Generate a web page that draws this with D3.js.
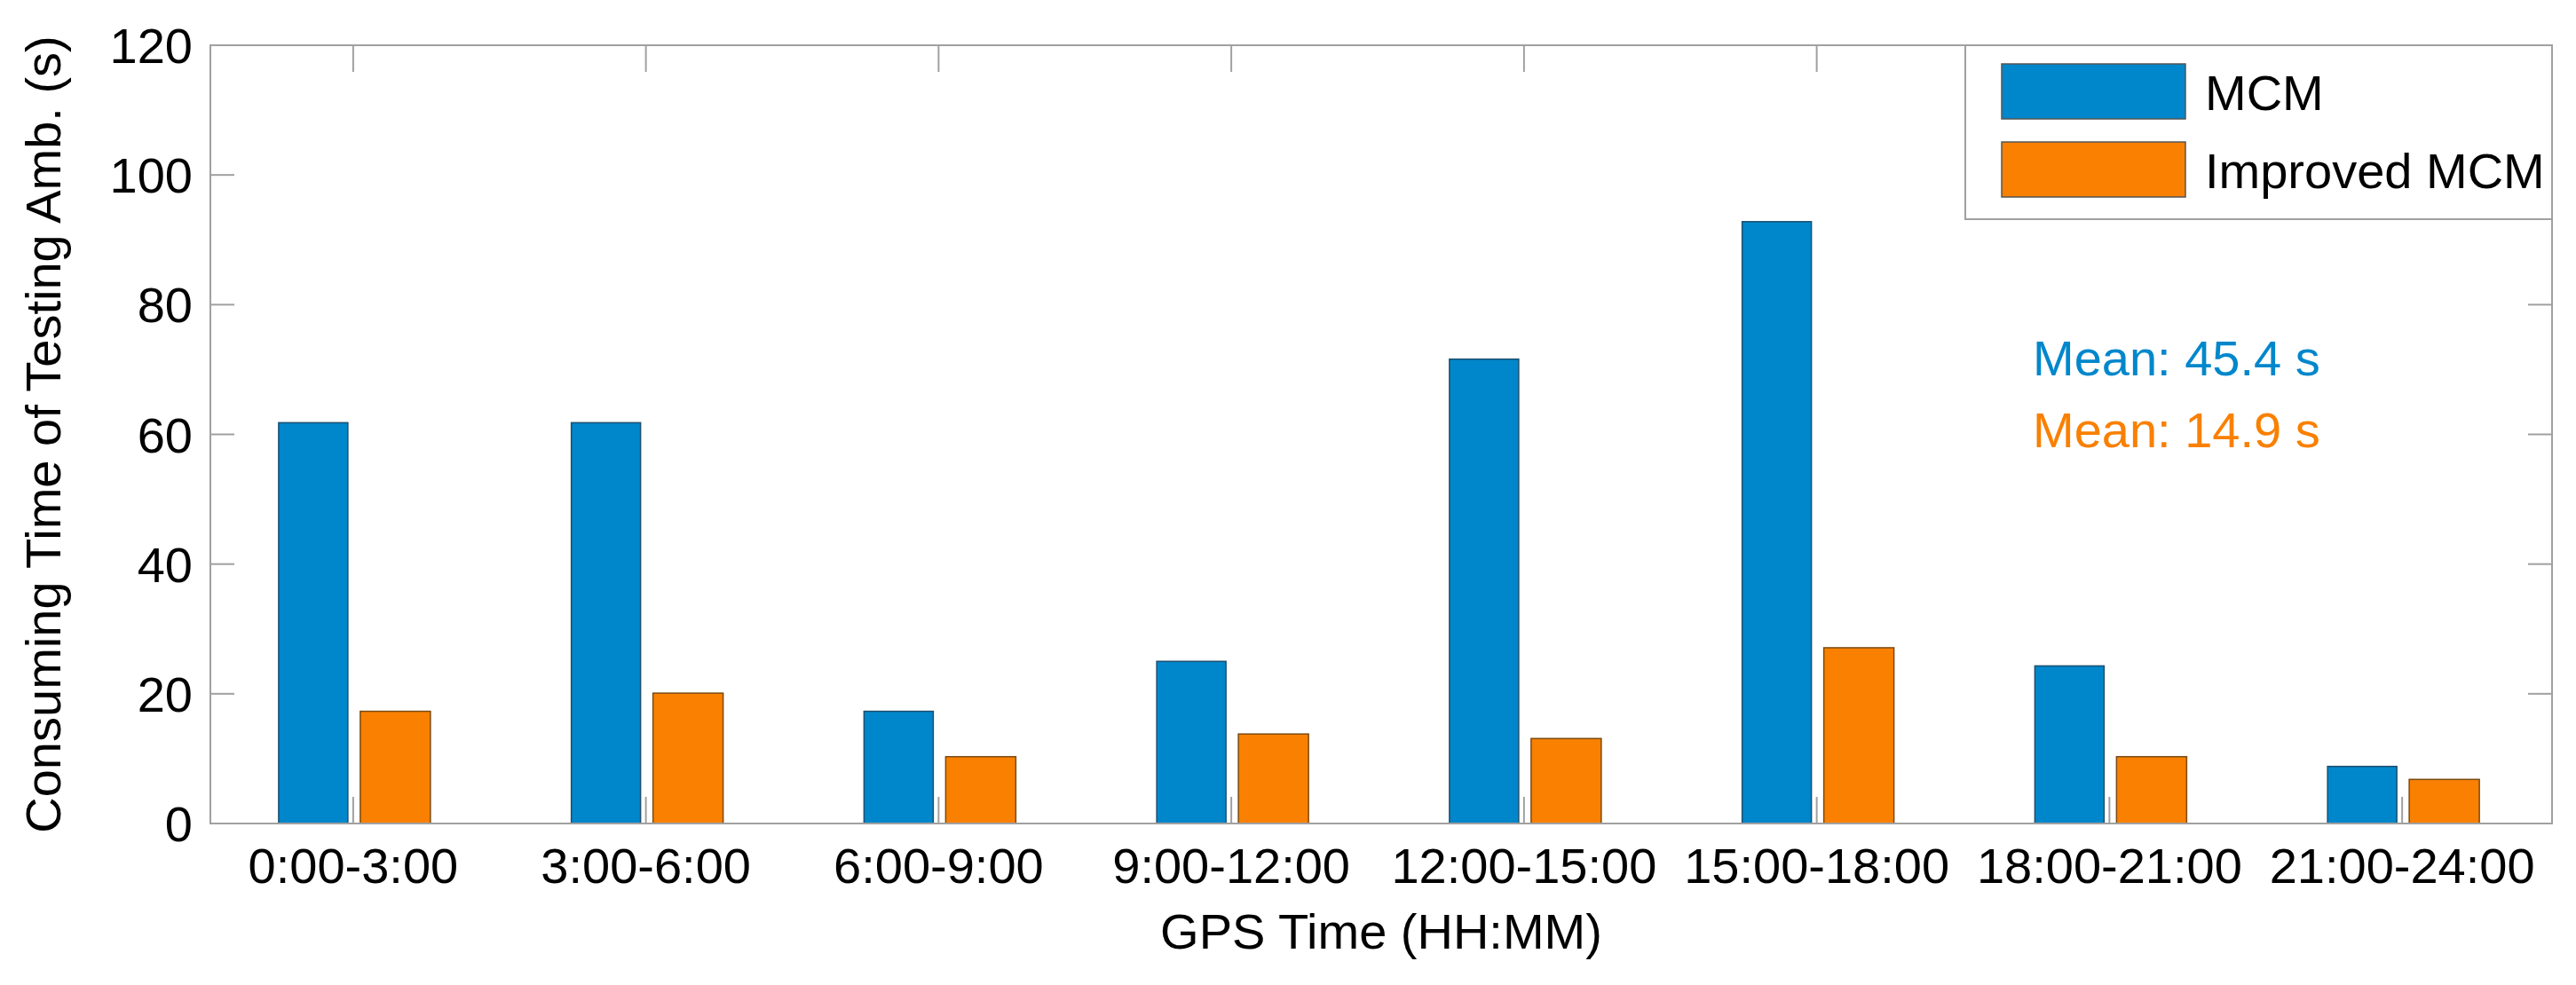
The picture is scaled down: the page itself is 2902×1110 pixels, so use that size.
<!DOCTYPE html>
<html>
<head>
<meta charset="utf-8">
<script src="https://cdn.jsdelivr.net/npm/d3@7"></script>
<style>
  body { margin: 0; background: #fff; }
  text { font-family: "Liberation Sans", Arial, sans-serif; }
</style>
</head>
<body>
<svg id="chart" width="2902" height="1110"></svg>
<script>
// chart data
var categories = ["0:00-3:00", "3:00-6:00", "6:00-9:00", "9:00-12:00",
                  "12:00-15:00", "15:00-18:00", "18:00-21:00", "21:00-24:00"];
var mcm = [61.8, 61.8, 17.3, 25.0, 71.6, 92.8, 24.3, 8.8];
var improved = [17.3, 20.1, 10.3, 13.8, 13.1, 27.1, 10.3, 6.8];
var yTicks = [0, 20, 40, 60, 80, 100, 120];
var seriesNames = ["MCM", "Improved MCM"];
var meanLabels = ["Mean: 45.4 s", "Mean: 14.9 s"];

var blue = "#0087CB", orange = "#F98000";
var plotLeft = 237, plotRight = 2875, plotTop = 51, plotBottom = 928;
var svg = d3.select("#chart");

var x = d3.scaleBand().domain(categories).range([plotLeft, plotRight]).padding(0);
var y = d3.scaleLinear().domain([0, 120]).range([plotBottom, plotTop]);

var cx = function (c) { return x(c) + x.bandwidth() / 2 - 4; };

// y axis ticks (inside, both sides) and labels
yTicks.forEach(function (t) {
  svg.append("line").attr("x1", plotLeft).attr("x2", plotLeft + 27)
    .attr("y1", y(t)).attr("y2", y(t)).attr("stroke", "#a0a0a0").attr("stroke-width", 2);
  svg.append("line").attr("x1", plotRight - 27).attr("x2", plotRight)
    .attr("y1", y(t)).attr("y2", y(t)).attr("stroke", "#a0a0a0").attr("stroke-width", 2);
  svg.append("text").attr("x", plotLeft - 20).attr("y", y(t) + 20)
    .attr("text-anchor", "end").attr("font-size", 56).text(t);
});

// x ticks (inside, top and bottom) and labels
categories.forEach(function (c) {
  svg.append("line").attr("x1", cx(c)).attr("x2", cx(c))
    .attr("y1", plotBottom).attr("y2", plotBottom - 30).attr("stroke", "#a0a0a0").attr("stroke-width", 2);
  svg.append("line").attr("x1", cx(c)).attr("x2", cx(c))
    .attr("y1", plotTop).attr("y2", plotTop + 30).attr("stroke", "#a0a0a0").attr("stroke-width", 2);
  svg.append("text").attr("x", cx(c)).attr("y", 995)
    .attr("text-anchor", "middle").attr("font-size", 56).text(c);
});

// bars
svg.selectAll("rect.mcm").data(mcm).enter().append("rect")
  .attr("class", "mcm")
  .attr("x", function (d, i) { return cx(categories[i]) - 84; })
  .attr("width", 78)
  .attr("y", function (d) { return y(d); })
  .attr("height", function (d) { return plotBottom - y(d); })
  .attr("fill", blue).attr("stroke", "#1d4f6e").attr("stroke-width", 1.5);

svg.selectAll("rect.imp").data(improved).enter().append("rect")
  .attr("class", "imp")
  .attr("x", function (d, i) { return cx(categories[i]) + 8; })
  .attr("width", 79)
  .attr("y", function (d) { return y(d); })
  .attr("height", function (d) { return plotBottom - y(d); })
  .attr("fill", orange).attr("stroke", "#7a4a10").attr("stroke-width", 1.5);

// axes frame
svg.append("rect").attr("x", plotLeft).attr("y", plotTop)
  .attr("width", plotRight - plotLeft).attr("height", plotBottom - plotTop)
  .attr("fill", "none").attr("stroke", "#a0a0a0").attr("stroke-width", 2);

// axis titles
svg.append("text").attr("x", (plotLeft + plotRight) / 2).attr("y", 1069)
  .attr("text-anchor", "middle").attr("font-size", 56).text("GPS Time (HH:MM)");
svg.append("text").attr("transform", "translate(68," + ((plotTop + plotBottom) / 2) + ") rotate(-90)")
  .attr("text-anchor", "middle").attr("font-size", 56).text("Consuming Time of Testing Amb. (s)");

// legend
svg.append("rect").attr("x", 2214).attr("y", plotTop).attr("width", plotRight - 2214).attr("height", 196)
  .attr("fill", "#fff").attr("stroke", "#a0a0a0").attr("stroke-width", 2);
[blue, orange].forEach(function (col, i) {
  var yy = 72 + i * 88;
  svg.append("rect").attr("x", 2255).attr("y", yy).attr("width", 207).attr("height", 62)
    .attr("fill", col).attr("stroke", "#555").attr("stroke-width", 1.5);
  svg.append("text").attr("x", 2484).attr("y", yy + 52).attr("font-size", 56).text(seriesNames[i]);
});

// mean annotations
svg.append("text").attr("x", 2290).attr("y", 423).attr("font-size", 56).attr("fill", blue).text(meanLabels[0]);
svg.append("text").attr("x", 2290).attr("y", 504).attr("font-size", 56).attr("fill", orange).text(meanLabels[1]);
</script>
</body>
</html>
